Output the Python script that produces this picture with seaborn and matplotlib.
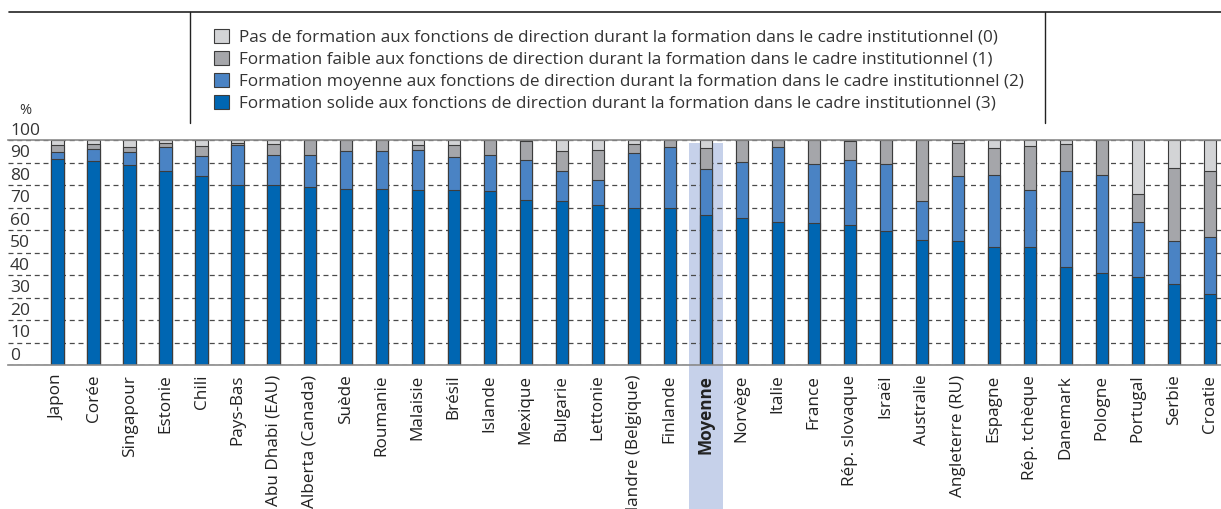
import matplotlib
matplotlib.use('Agg')
import matplotlib.pyplot as plt
from matplotlib.patches import Patch, Rectangle
from matplotlib.lines import Line2D
import matplotlib.transforms as mtransforms
import seaborn as sns
import pandas as pd

# Données (%)
pays = ['Japon', 'Corée', 'Singapour', 'Estonie', 'Chili', 'Pays-Bas', 'Abu Dhabi (EAU)',
        'Alberta (Canada)', 'Suède', 'Roumanie', 'Malaisie', 'Brésil', 'Islande', 'Mexique',
        'Bulgarie', 'Lettonie', 'Flandre (Belgique)', 'Finlande', 'Moyenne', 'Norvège', 'Italie',
        'France', 'Rép. slovaque', 'Israël', 'Australie', 'Angleterre (RU)', 'Espagne',
        'Rép. tchèque', 'Danemark', 'Pologne', 'Portugal', 'Serbie', 'Croatie']
solide = [91.7, 90.8, 88.7, 86.2, 83.9, 80.1, 79.9, 79.3, 78.4, 78.2, 77.6, 77.6, 77.2, 73.2,
          72.9, 71.3, 69.6, 69.6, 66.5, 65.3, 63.4, 63.0, 62.1, 59.4, 55.4, 55.0, 52.6, 52.3,
          43.4, 40.9, 39.0, 35.9, 31.6]
moyenne = [3.0, 5.1, 5.8, 10.5, 8.8, 17.5, 13.6, 13.9, 16.6, 16.8, 18.1, 14.7, 16.1, 17.8,
           13.3, 10.9, 24.6, 27.3, 20.5, 25.1, 33.3, 26.2, 29.0, 29.9, 17.5, 29.0, 31.7, 25.3,
           42.7, 43.5, 24.4, 19.1, 25.3]
faible = [3.3, 2.3, 2.2, 1.8, 4.5, 1.1, 4.6, 6.8, 5.0, 5.0, 1.9, 5.3, 6.7, 8.6,
          8.9, 13.4, 4.0, 3.1, 9.3, 9.6, 3.3, 10.8, 8.5, 10.7, 27.1, 14.8, 12.0, 19.7,
          12.1, 15.6, 12.6, 32.4, 29.2]
pas = [2.0, 1.8, 3.3, 1.5, 2.8, 1.3, 1.9, 0.0, 0.0, 0.0, 2.4, 2.4, 0.0, 0.4,
       4.9, 4.4, 1.8, 0.0, 3.7, 0.0, 0.0, 0.0, 0.4, 0.0, 0.0, 1.2, 3.7, 2.7,
       1.8, 0.0, 24.0, 12.6, 13.9]

legende = [
    'Pas de formation aux fonctions de direction durant la formation dans le cadre institutionnel (0)',
    'Formation faible aux fonctions de direction durant la formation dans le cadre institutionnel (1)',
    'Formation moyenne aux fonctions de direction durant la formation dans le cadre institutionnel (2)',
    'Formation solide aux fonctions de direction durant la formation dans le cadre institutionnel (3)',
]
couleurs = ['#d3d4d6', '#a5a6aa', '#4a83c4', '#0066b2']

df = pd.DataFrame({'pays': pays, 'solide': solide, 'moyenne': moyenne,
                   'faible': faible, 'pas': pas})
df['c3'] = df['solide']
df['c2'] = df['c3'] + df['moyenne']
df['c1'] = df['c2'] + df['faible']
df['c0'] = df['c1'] + df['pas']

sns.set_style('white')
plt.rcParams['font.family'] = ['Open Sans', 'DejaVu Sans']

fig = plt.figure(figsize=(12.21, 5.09), dpi=100)
ax = fig.add_axes([8 / 1221, 1 - 365 / 509, 1 - 8 / 1221, 225 / 509])

# bande de mise en valeur de la moyenne
i_moy = pays.index('Moyenne')
ax.add_patch(Rectangle((i_moy - 0.47, -64), 0.94, 162.5, facecolor='#c6d1ea',
                       edgecolor='none', zorder=0.5, clip_on=False))

# barres empilées : cumul du plus haut au plus bas
for col, c in zip(['c0', 'c1', 'c2', 'c3'], couleurs):
    sns.barplot(data=df, x='pays', y=col, color=c, saturation=1, width=0.35,
                edgecolor='#3c3c3c', linewidth=0.8, errorbar=None, ax=ax, zorder=2)

ax.set_xlim(-1.383, 32.31)
ax.set_ylim(0, 100)
ax.set_xlabel('')
ax.set_ylabel('')

ax.set_yticks(range(0, 101, 10))
ax.yaxis.grid(True, linestyle=(0, (4, 3)), color='#4a4a4a', linewidth=0.9, zorder=1)
ax.set_axisbelow(True)
ax.tick_params(axis='y', length=0, labelleft=False)
ax.tick_params(axis='x', length=0, pad=7)
for y in range(0, 101, 10):
    ax.text(0.0016, y + 0.6, str(y), transform=mtransforms.blended_transform_factory(ax.transAxes, ax.transData),
            ha='left', va='bottom', fontsize=12.5, color='#333333')

ax.set_xticks(range(len(pays)))
ax.set_xticklabels(pays, rotation=90, fontsize=12.3, color='#222222', va='top', ha='center')
ax.get_xticklabels()[i_moy].set_fontweight('bold')

for s in ['left', 'right']:
    ax.spines[s].set_visible(False)
ax.spines['bottom'].set_color('#8a8a8a')
ax.spines['top'].set_color('#8a8a8a')
ax.spines['bottom'].set_linewidth(1.2)
ax.spines['top'].set_linewidth(1.2)

fig.text(25 / 1221, 1 - 111 / 509, '%', fontsize=10.5, color='#333333', ha='center', va='center')

# cadre de la légende
fig.add_artist(Line2D([9 / 1221, 1], [1 - 12 / 509] * 2, transform=fig.transFigure, color='#222222', lw=1.2))
fig.add_artist(Line2D([190 / 1221] * 2, [1 - 12 / 509, 1 - 123 / 509], transform=fig.transFigure, color='#222222', lw=1))
fig.add_artist(Line2D([1045 / 1221] * 2, [1 - 12 / 509, 1 - 123 / 509], transform=fig.transFigure, color='#222222', lw=1))

handles = [Patch(facecolor=c, edgecolor='#3c3c3c', linewidth=0.8) for c in couleurs]
fig.legend(handles, legende, loc='upper left', bbox_to_anchor=(214 / 1221, 1 - 29 / 509),
           frameon=False, fontsize=12.3, handlelength=0.85, handleheight=0.85, handletextpad=0.6,
           labelspacing=0.31, borderaxespad=0, borderpad=0, labelcolor='#333333')

fig.savefig('out.png', dpi=100)
